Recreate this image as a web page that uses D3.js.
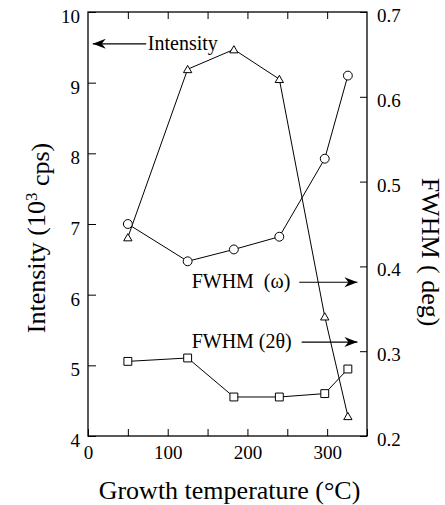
<!DOCTYPE html>
<html>
<head>
<meta charset="utf-8">
<script src="https://cdn.jsdelivr.net/npm/d3@7"></script>
<style>
  body { margin: 0; background: #fff; }
  text { font-family: "Liberation Serif", "Times New Roman", serif; fill: #000; }
</style>
</head>
<body>
<svg id="chart" width="445" height="505"></svg>
<script>
// growth temperature (°C)
const temps = [50, 125, 183, 240, 297, 326];
// intensity, 10^3 cps (left axis)
const intensity = [6.81, 9.19, 9.47, 9.05, 5.69, 4.28];
// FWHM omega, deg (right axis)
const fwhmOmega = [0.45, 0.406, 0.42, 0.435, 0.527, 0.625];
// FWHM 2theta, deg (right axis)
const fwhm2Theta = [0.288, 0.292, 0.246, 0.246, 0.25, 0.279];

const xTicks = [0, 50, 100, 150, 200, 250, 300, 350];
const leftTicks = [4, 5, 6, 7, 8, 9, 10];
const rightTicks = [0.2, 0.3, 0.4, 0.5, 0.6, 0.7];

var svg = d3.select("#chart"),
  width = +svg.attr("width"),
  height = +svg.attr("height");

const margin = { top: 12, right: 78, bottom: 69, left: 88 };

const x = d3.scaleLinear().domain([0, 350]).range([margin.left, width - margin.right]);
const yL = d3.scaleLinear().domain([4, 10]).range([height - margin.bottom, margin.top]);
const yR = d3.scaleLinear().domain([0.2, 0.7]).range([height - margin.bottom, margin.top]);

// arrowhead
svg.append("defs")
  .append("marker")
  .attr("id", "arrowhead")
  .attr("viewBox", "-14 -6 16 12")
  .attr("refX", 0)
  .attr("refY", 0)
  .attr("markerWidth", 16)
  .attr("markerHeight", 12)
  .attr("markerUnits", "userSpaceOnUse")
  .attr("orient", "auto")
  .append("path")
  .attr("d", "M0,0 L-13,-5 L-9,0 L-13,5 Z")
  .attr("fill", "#000");

// frame
svg.append("rect")
  .attr("x", x(0))
  .attr("y", yL(10))
  .attr("width", x(350) - x(0))
  .attr("height", yL(4) - yL(10))
  .attr("fill", "none")
  .attr("stroke", "#000")
  .attr("stroke-width", 1.3);

const fmtX = (d) => (d % 100 === 0 && d < 350 ? d : "");

// bottom axis
svg.append("g")
  .attr("transform", `translate(0,${yL(4)})`)
  .call(d3.axisBottom(x).tickValues(xTicks).tickFormat(fmtX).tickSizeInner(-7).tickSizeOuter(0).tickPadding(10))
  .call((g) => g.select(".domain").remove())
  .call((g) => g.selectAll("text").style("font-size", "19px").style("font-family", "Liberation Serif"));

// top axis ticks
svg.append("g")
  .attr("transform", `translate(0,${yL(10)})`)
  .call(d3.axisTop(x).tickValues(xTicks.slice(1, -1)).tickFormat("").tickSizeInner(-7).tickSizeOuter(0))
  .call((g) => g.select(".domain").remove());

// left axis
svg.append("g")
  .attr("transform", `translate(${x(0)},0)`)
  .call(d3.axisLeft(yL).tickValues(leftTicks).tickFormat(d3.format("d")).tickSizeInner(-8).tickSizeOuter(0).tickPadding(8))
  .call((g) => g.select(".domain").remove())
  .call((g) => g.selectAll("text").attr("dy", "0.55em").style("font-size", "19px").style("font-family", "Liberation Serif"));

// right axis
svg.append("g")
  .attr("transform", `translate(${x(350)},0)`)
  .call(d3.axisRight(yR).tickValues(rightTicks).tickFormat(d3.format(".1f")).tickSizeInner(-7).tickSizeOuter(0).tickPadding(10))
  .call((g) => g.select(".domain").remove())
  .call((g) => g.selectAll("text").attr("dy", "0.5em").style("font-size", "19px").style("font-family", "Liberation Serif"));

// axis titles
svg.append("text")
  .attr("x", (x(0) + x(350)) / 2 + 2)
  .attr("y", 499)
  .style("text-anchor", "middle")
  .style("font-size", "26px")
  .text("Growth temperature (°C)");

const lt = svg.append("text")
  .attr("transform", `translate(45,${(yL(4) + yL(10)) / 2 + 14}) rotate(-90)`)
  .style("text-anchor", "middle")
  .style("font-size", "26px");
lt.append("tspan").text("Intensity (10");
lt.append("tspan").attr("dy", "-0.45em").style("font-size", "17px").text("3");
lt.append("tspan").attr("dy", "0.45em").text(" cps)");

svg.append("text")
  .attr("transform", `translate(422,${(yR(0.2) + yR(0.7)) / 2 + 28}) rotate(90)`)
  .style("text-anchor", "middle")
  .style("font-size", "26px")
  .text("FWHM  ( deg)");

// series
const pts = (ys, sc) => temps.map((t, i) => [x(t), sc(ys[i])]);
const line = d3.line();

const series = [
  { data: pts(intensity, yL), shape: d3.symbolTriangle, size: 30 },
  { data: pts(fwhmOmega, yR), shape: d3.symbolCircle, size: 62 },
  { data: pts(fwhm2Theta, yR), shape: d3.symbolSquare, size: 62 },
];

series.forEach((s) => {
  svg.append("path")
    .attr("d", line(s.data))
    .attr("fill", "none")
    .attr("stroke", "#000")
    .attr("stroke-width", 1);
});

series.forEach((s) => {
  svg.append("g")
    .selectAll("path")
    .data(s.data)
    .enter()
    .append("path")
    .attr("transform", (d) => `translate(${d[0]},${d[1] + (s.shape === d3.symbolTriangle ? 1 : 0)})`)
    .attr("d", d3.symbol(s.shape, s.size))
    .attr("fill", "#fff")
    .attr("stroke", "#000")
    .attr("stroke-width", 1);
});

// annotations
svg.append("line")
  .attr("x1", x(73)).attr("y1", yL(9.55))
  .attr("x2", x(6)).attr("y2", yL(9.55))
  .attr("stroke", "#000").attr("stroke-width", 1.2)
  .attr("marker-end", "url(#arrowhead)");
svg.append("text")
  .attr("x", x(75)).attr("y", yL(9.55) + 6)
  .style("font-size", "20px")
  .text("Intensity");

svg.append("text")
  .attr("x", x(130)).attr("y", yR(0.3813) + 6)
  .style("font-size", "20px")
  .style("white-space", "pre")
  .text("FWHM  (ω)");
svg.append("line")
  .attr("x1", x(265)).attr("y1", yR(0.3813))
  .attr("x2", x(338)).attr("y2", yR(0.3813))
  .attr("stroke", "#000").attr("stroke-width", 1.2)
  .attr("marker-end", "url(#arrowhead)");

svg.append("text")
  .attr("x", x(130)).attr("y", yR(0.3108) + 6)
  .style("font-size", "20px")
  .text("FWHM (2θ)");
svg.append("line")
  .attr("x1", x(268)).attr("y1", yR(0.3108))
  .attr("x2", x(338)).attr("y2", yR(0.3108))
  .attr("stroke", "#000").attr("stroke-width", 1.2)
  .attr("marker-end", "url(#arrowhead)");
</script>
</body>
</html>
